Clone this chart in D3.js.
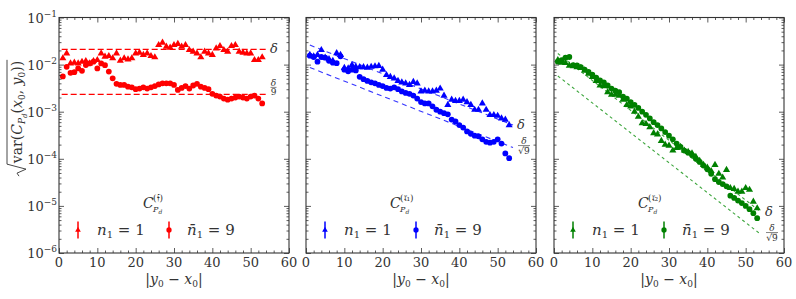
<!DOCTYPE html>
<html>
<head>
<meta charset="utf-8">
<title>Variance of correlator vs distance</title>
<script src="https://d3js.org/d3.v7.min.js"></script>
<style>
  body { margin: 0; background: #fff; }
</style>
</head>
<body>
<svg width="796" height="299" font-family="DejaVu Serif" fill="#333"></svg>
<script>
// ---- data ----
const distances = d3.range(1, 54); // |y0 - x0| = 1..53

const fTri = [0.0136,0.0173,0.0106,0.011,0.0106,0.0115,0.0119,0.0106,0.0119,0.0125,
  0.0173,0.0148,0.0152,0.0136,0.0173,0.0121,0.0136,0.0129,0.0136,0.0173,
  0.0179,0.016,0.0173,0.0152,0.0143,0.026,0.0292,0.024,0.0229,0.026,
  0.0274,0.024,0.026,0.0204,0.0188,0.0173,0.0143,0.0188,0.0173,0.016,
  0.0221,0.0248,0.0204,0.0188,0.0248,0.026,0.0188,0.0179,0.0173,0.0173,
  0.0125,0.0125,0.0143];
const fCirc = [0.0056,0.009,0.0067,0.0069,0.0083,0.0074,0.0098,0.0106,0.0115,0.0083,
  0.0106,0.0097,0.0071,0.0051,0.0039,0.0037,0.0037,0.0034,0.0033,0.0030,
  0.0031,0.0033,0.0031,0.0033,0.0035,0.0038,0.0040,0.0040,0.0040,0.0037,
  0.0029,0.0032,0.0035,0.0031,0.0036,0.0039,0.0034,0.0032,0.0030,0.0024,
  0.0022,0.0021,0.0019,0.0018,0.0019,0.0020,0.0021,0.0020,0.0019,0.0021,
  0.0022,0.0019,0.0015];

const r1Tri = [0.016,0.015,0.016,0.0204,0.014,0.013,0.012,0.0175,0.016,0.0085,
  0.0083,0.0098,0.009,0.0088,0.0088,0.0086,0.009,0.0092,0.0094,0.0078,
  0.006,0.0055,0.0051,0.0045,0.0042,0.004,0.0037,0.0043,0.004,0.0027,
  0.0028,0.0027,0.0027,0.0028,0.0031,0.0022,0.0014,0.0018,0.0017,0.0017,
  0.0018,0.0016,0.0014,0.0011,0.0011,0.0015,0.0011,0.00085,0.00085,0.00082,
  0.00072,0.00068,0.00052];
const r1Circ = [0.0155,0.0145,0.0115,0.0145,0.014,0.012,0.011,0.0107,0.015,0.0078,
  0.0072,0.0078,0.0075,0.0055,0.0049,0.0045,0.0042,0.004,0.0037,0.0035,
  0.0032,0.0031,0.0033,0.003,0.0027,0.0025,0.0024,0.0022,0.0019,0.0016,
  0.0015,0.0015,0.0013,0.0011,0.001,0.00093,0.00088,0.00068,0.00062,0.00052,
  0.00046,0.00038,0.00034,0.00031,0.0003,0.00026,0.00023,0.00022,0.00023,0.00026,
  0.00021,0.00013,0.000103];

const r2Tri = [0.0125,0.011,0.0108,0.0095,0.0092,0.0088,0.0085,0.0075,0.0064,0.0055,
  0.0045,0.0036,0.0035,0.0026,0.0023,0.0023,0.0022,0.0018,0.0014,0.0013,
  0.001,0.00078,0.00057,0.00055,0.00047,0.00035,0.00033,0.00024,0.0002,0.00019,
  0.00015,0.00017,0.00018,0.00015,0.00014,0.00013,0.00011,9e-5,7.4e-5,6.5e-5,
  5.5e-5,7.4e-5,4.8e-5,4e-5,5.8e-5,2.4e-5,2.3e-5,2.0e-5,2.0e-5,2.4e-5,
  2.2e-5,1.23e-5,8.9e-6];
const r2Circ = [0.0115,0.0125,0.014,0.0145,0.0098,0.0096,0.0088,0.0078,0.007,0.0061,
  0.0053,0.0046,0.0042,0.0036,0.0031,0.0028,0.0026,0.0021,0.0019,0.0016,
  0.0014,0.0012,0.001,0.00086,0.00072,0.0006,0.00052,0.00044,0.00037,0.00031,
  0.00026,0.00021,0.00018,0.00015,0.000135,0.00012,0.0001,8.6e-5,7.2e-5,6e-5,
  4.8e-5,3.7e-5,3.2e-5,2.9e-5,2.6e-5,1.65e-5,1.48e-5,1.3e-5,1.15e-5,1.0e-5,
  8.5e-6,7e-6,5.5e-6];

// reference lines delta (start, end) as [distance, value]
const fDelta = [[0.7, 0.021], [54, 0.021]];
const r1Delta = [[1, 0.026], [54, 0.00052]];
const r2Delta = [[1, 0.0172], [54, 7.4e-6]];
const fDivisor = 9, rDivisor = 3; // delta/9 and delta/sqrt(9)

const xTicks = [0, 10, 20, 30, 40, 50, 60];
const yExponents = [-6, -5, -4, -3, -2, -1];

// ---- layout ----
const svg = d3.select("svg");
const panelW = 230, plotTop = 17.5, plotBottom = 253;
const panelX = [59, 306, 554];

const x = d3.scaleLinear().domain([0, 60]).range([0, panelW]);
const y = d3.scaleLog().domain([1e-6, 1e-1]).range([plotBottom, plotTop]);

const xMinor = d3.range(0, 61, 2).filter(v => v % 10 !== 0);
const yMinor = [];
for (let e = -6; e < -1; e++) for (let k = 2; k <= 9; k++) yMinor.push(k * Math.pow(10, e));

const panels = [
  { sup: "𝔣", color: "#ff0000", dashColor: "#ff0000", dash: "6,3", tri: fTri, circ: fCirc,
    delta: fDelta, div: fDivisor, frac: "9", fracDy: -7 },
  { sup: "𝔯₁", color: "#0000ff", dashColor: "#3535ff", dash: "5,4", tri: r1Tri, circ: r1Circ,
    delta: r1Delta, div: rDivisor, frac: "√9", fracDy: -2 },
  { sup: "𝔯₂", color: "#008000", dashColor: "#3da63d", dash: "3,3", tri: r2Tri, circ: r2Circ,
    delta: r2Delta, div: rDivisor, frac: "√9", fracDy: -2 }
];

const triSym = d3.symbol().type(d3.symbolTriangle).size(22);
const circSym = d3.symbol().type(d3.symbolCircle).size(26);

panels.forEach((p, i) => {
  const g = svg.append("g").attr("transform", `translate(${panelX[i]},0)`);

  // dashed reference lines
  const line = d3.line().x(d => x(d[0])).y(d => y(d[1]));
  const lower = p.delta.map(d => [d[0], d[1] / p.div]);
  [p.delta, lower].forEach(pts => {
    g.append("path").attr("d", line(pts)).attr("fill", "none")
      .attr("stroke", p.dashColor).attr("stroke-width", 1.1)
      .attr("stroke-dasharray", p.dash);
  });

  // points
  const clip = "clip" + i;
  g.append("clipPath").attr("id", clip).append("rect")
    .attr("x", 0).attr("y", plotTop).attr("width", panelW).attr("height", plotBottom - plotTop);
  const pts = g.append("g").attr("clip-path", `url(#${clip})`);
  pts.selectAll(".tri").data(distances).enter().append("path")
    .attr("class", "tri")
    .attr("transform", (d, j) => `translate(${x(d)},${y(p.tri[j])})`)
    .attr("d", triSym).attr("fill", p.color);
  pts.selectAll(".circ").data(distances).enter().append("path")
    .attr("class", "circ")
    .attr("transform", (d, j) => `translate(${x(d)},${y(p.circ[j])})`)
    .attr("d", circSym).attr("fill", p.color);

  // delta labels
  const endX = x(p.delta[1][0]);
  g.append("text").attr("x", endX + 4).attr("y", y(p.delta[1][1]) + 4)
    .attr("font-size", 13).attr("font-style", "italic").text("δ");
  const fy = y(lower[1][1]) + p.fracDy;
  const fx = endX + (p.frac === "9" ? 7.5 : 11);
  g.append("text").attr("x", fx).attr("y", fy - 1.5).attr("text-anchor", "middle")
    .attr("font-size", 9).attr("font-style", "italic").text("δ");
  g.append("line").attr("x1", fx - (p.frac === "9" ? 3 : 6)).attr("x2", fx + (p.frac === "9" ? 3 : 6))
    .attr("y1", fy).attr("y2", fy).attr("stroke", "#333").attr("stroke-width", 0.6);
  g.append("text").attr("x", fx).attr("y", fy + 8).attr("text-anchor", "middle")
    .attr("font-size", 9).text(p.frac);
  if (p.frac !== "9") {
    g.append("line").attr("x1", fx - 1).attr("x2", fx + 5)
      .attr("y1", fy + 1.6).attr("y2", fy + 1.6).attr("stroke", "#333").attr("stroke-width", 0.5);
  }

  // axes: inward ticks on all four sides
  const mk = (axis, vals, size, tr) => {
    const a = g.append("g").attr("transform", tr)
      .call(axis.tickValues(vals).tickSize(size).tickFormat(""));
    a.select(".domain").remove();
    a.selectAll("line").attr("stroke", "#333").attr("stroke-width", 0.8);
    return a;
  };
  mk(d3.axisBottom(x), xTicks, -5, `translate(0,${plotBottom})`);
  mk(d3.axisBottom(x), xMinor, -2.5, `translate(0,${plotBottom})`);
  mk(d3.axisTop(x), xTicks, -5, `translate(0,${plotTop})`);
  mk(d3.axisTop(x), xMinor, -2.5, `translate(0,${plotTop})`);
  mk(d3.axisLeft(y), yExponents.map(e => Math.pow(10, e)), -5, "translate(0,0)");
  mk(d3.axisLeft(y), yMinor, -2.5, "translate(0,0)");
  mk(d3.axisRight(y), yExponents.map(e => Math.pow(10, e)), -5, `translate(${panelW},0)`);
  mk(d3.axisRight(y), yMinor, -2.5, `translate(${panelW},0)`);

  g.append("rect").attr("x", 0).attr("y", plotTop).attr("width", panelW).attr("height", plotBottom - plotTop)
    .attr("fill", "none").attr("stroke", "#333").attr("stroke-width", 1.1);

  // x tick labels
  g.selectAll(".xl").data(xTicks).enter().append("text")
    .attr("x", d => x(d)).attr("y", plotBottom + 14).attr("text-anchor", "middle")
    .attr("font-size", 13).text(d => d);

  // x axis title |y0 - x0|
  const xt = g.append("text").attr("x", panelW / 2).attr("y", 284)
    .attr("text-anchor", "middle").attr("font-size", 14);
  xt.append("tspan").text("|");
  xt.append("tspan").attr("font-style", "italic").text("y");
  xt.append("tspan").attr("font-size", 9).attr("dy", 3).text("0");
  xt.append("tspan").attr("dy", -3).text(" − ");
  xt.append("tspan").attr("font-style", "italic").text("x");
  xt.append("tspan").attr("font-size", 9).attr("dy", 3).text("0");
  xt.append("tspan").attr("dy", -3).text("|");

  // C label
  const cx = 84;
  g.append("text").attr("x", cx).attr("y", 208).attr("font-size", 14)
    .attr("font-style", "italic").text("C");
  g.append("text").attr("x", cx + 10).attr("y", 201).attr("font-size", 9).text(`(${p.sup})`);
  const sub = g.append("text").attr("x", cx + 10).attr("y", 212).attr("font-size", 8)
    .attr("font-style", "italic");
  sub.append("tspan").text("P");
  sub.append("tspan").attr("font-size", 6).attr("dy", 1.5).text("d");

  // legend
  const ly = 230;
  [{ sym: d3.symbolTriangle, mx: 19, tx: 38, bar: false, val: "1" },
   { sym: d3.symbolCircle, mx: 110, tx: 128, bar: true, val: "9" }].forEach(L => {
    g.append("line").attr("x1", L.mx).attr("x2", L.mx).attr("y1", ly - 8.5).attr("y2", ly + 8.5)
      .attr("stroke", p.color).attr("stroke-width", 1.5);
    g.append("path").attr("transform", `translate(${L.mx},${ly})`)
      .attr("d", d3.symbol().type(L.sym).size(L.bar ? 22 : 14)).attr("fill", p.color);
    const t = g.append("text").attr("x", L.tx).attr("y", ly + 5).attr("font-size", 15);
    t.append("tspan").attr("font-style", "italic").text(L.bar ? "n̄" : "n");
    t.append("tspan").attr("font-size", 10).attr("dy", 3).text("1");
    t.append("tspan").attr("dy", -3).text(" = " + L.val);
  });
});

// y tick labels (first panel only)
const yl = svg.append("g");
yExponents.forEach(e => {
  const t = yl.append("text").attr("x", 57).attr("y", y(Math.pow(10, e)) + 5)
    .attr("text-anchor", "end").attr("font-size", 13);
  t.append("tspan").text("10");
  t.append("tspan").attr("font-size", 9).attr("dy", -6).text("−" + Math.abs(e));
});

// y axis title: sqrt(var(C_Pd(x0, y0)))
const yt = svg.append("g").attr("transform", "translate(22,118) rotate(-90)");
const ytext = yt.append("text").attr("font-size", 14);
ytext.append("tspan").text("var(");
ytext.append("tspan").attr("font-style", "italic").text("C");
ytext.append("tspan").attr("font-size", 9).attr("font-style", "italic").attr("dy", 3).text("P");
ytext.append("tspan").attr("font-size", 7).attr("font-style", "italic").attr("dy", 1.5).text("d");
ytext.append("tspan").attr("dy", -4.5).text("(");
ytext.append("tspan").attr("font-style", "italic").text("x");
ytext.append("tspan").attr("font-size", 9).attr("dy", 3).text("0");
ytext.append("tspan").attr("dy", -3).text(", ");
ytext.append("tspan").attr("font-style", "italic").text("y");
ytext.append("tspan").attr("font-size", 9).attr("dy", 3).text("0");
ytext.append("tspan").attr("dy", -3).text("))");
const w = ytext.node().getComputedTextLength();
const x0 = -w / 2 + 6;
ytext.attr("x", x0);
yt.append("path")
  .attr("d", `M${x0 - 13},-3 L${x0 - 10},-5 L${x0 - 6},4 L${x0 - 1},-15 L${x0 + w + 1},-15`)
  .attr("fill", "none").attr("stroke", "#333").attr("stroke-width", 0.9);
</script>
</body>
</html>
